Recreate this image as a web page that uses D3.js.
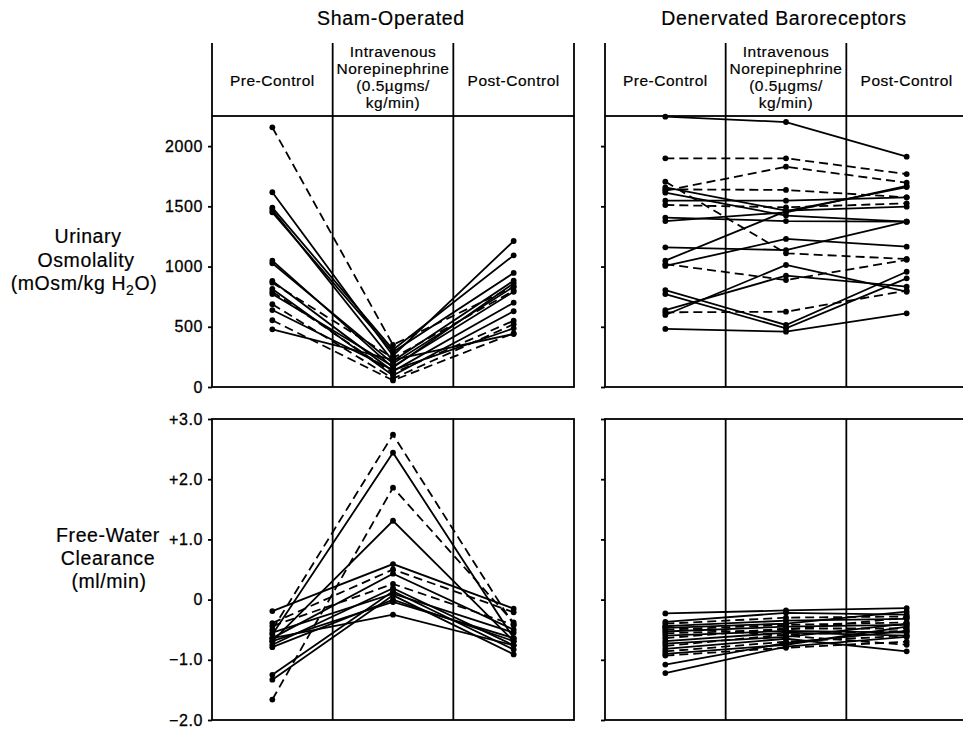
<!DOCTYPE html>
<html><head><meta charset="utf-8">
<script src="https://cdn.jsdelivr.net/npm/d3@7"></script>
<style>
body{margin:0;background:#fff;}
svg{font-family:"Liberation Sans",Arial,Helvetica,sans-serif;}
</style></head>
<body><svg id="c" width="963" height="730"></svg>
<script>
// ---------- data ----------
const phases = ["Pre-Control", "Norepinephrine", "Post-Control"];
const phaseHeaders = [["Pre-Control"], ["Intravenous", "Norepinephrine", "(0.5\u00b5gms/", "kg/min)"], ["Post-Control"]];
const groupTitles = ["Sham-Operated", "Denervated Baroreceptors"];
const osmTicks = [0, 500, 1000, 1500, 2000];
const fwcTicks = [-2, -1, 0, 1, 2, 3];
const fwcTickLabels = ["\u22122.0", "\u22121.0", "0", "+1.0", "+2.0", "+3.0"];

// each row: [pre, norepinephrine, post, dashed(1)/solid(0)]
const shamOsm = [
  [2156, 350, 833, 1],
  [1617, 260, 1212, 0],
  [1489, 310, 1093, 0],
  [1470, 215, 883, 0],
  [1450, 290, 947, 0],
  [1049, 160, 861, 0],
  [1027, 195, 833, 0],
  [880, 130, 700, 0],
  [866, 240, 800, 1],
  [814, 95, 629, 0],
  [791, 115, 550, 1],
  [772, 170, 791, 0],
  [687, 70, 521, 1],
  [639, 140, 487, 0],
  [554, 55, 446, 1],
  [479, 225, 440, 0]
];
const denervOsm = [
  [2244, 2200, 1912, 0],
  [1899, 1899, 1768, 1],
  [1630, 1829, 1696, 1],
  [1705, 1110, 1063, 1],
  [1641, 1636, 1575, 1],
  [1658, 1464, 1497, 0],
  [1547, 1547, 1575, 0],
  [1511, 1492, 1525, 1],
  [1613, 1423, 1373, 0],
  [1406, 1378, 1373, 0],
  [1378, 1450, 1669, 0],
  [1160, 1137, 1373, 0],
  [1049, 1460, 1660, 0],
  [1005, 1229, 1165, 0],
  [1020, 888, 1056, 1],
  [598, 1013, 791, 0],
  [639, 924, 833, 0],
  [805, 515, 957, 0],
  [772, 487, 902, 0],
  [620, 625, 800, 1],
  [482, 459, 612, 0]
];
const shamFwc = [
  [-0.50, 2.74, -0.42, 1],
  [-0.58, 2.44, -0.64, 0],
  [-1.66, 1.86, -0.38, 1],
  [-0.69, 1.31, -0.69, 0],
  [-0.19, 0.59, -0.15, 0],
  [-0.39, 0.50, -0.21, 1],
  [-0.64, 0.43, -0.50, 0],
  [-0.44, 0.26, -0.42, 1],
  [-0.75, 0.19, -0.76, 0],
  [-1.25, 0.14, -0.83, 0],
  [-1.33, 0.07, -0.91, 0],
  [-0.79, 0.00, -0.69, 0],
  [-0.69, -0.04, -0.64, 0],
  [-0.64, -0.25, -0.76, 0],
  [-0.55, 0.10, -0.55, 0]
];
const denervFwc = [
  [-0.23, -0.18, -0.14, 0],
  [-0.37, -0.22, -0.25, 0],
  [-0.40, -0.30, -0.28, 1],
  [-0.44, -0.35, -0.32, 0],
  [-0.47, -0.40, -0.20, 0],
  [-0.50, -0.42, -0.38, 1],
  [-0.53, -0.45, -0.42, 0],
  [-0.56, -0.50, -0.30, 1],
  [-0.60, -0.52, -0.55, 0],
  [-0.64, -0.48, -0.48, 1],
  [-0.69, -0.55, -0.60, 0],
  [-0.73, -0.62, -0.40, 0],
  [-0.77, -0.58, -0.52, 1],
  [-0.82, -0.65, -0.86, 0],
  [-0.86, -0.70, -0.60, 1],
  [-0.90, -0.75, -0.45, 0],
  [-0.93, -0.80, -0.70, 1],
  [-1.08, -0.72, -0.52, 0],
  [-1.22, -0.78, -0.62, 0],
  [-0.45, -0.60, -0.75, 1]
];

// ---------- layout ----------
const svg = d3.select("#c");
const panelX = [212, 605], panelW = 362;
const headerTop = 43, osmTop = 116, osmBottom = 387, fwcTop = 419, fwcBottom = 720;
const yOsm = d3.scaleLinear().domain([0, 2250]).range([osmBottom, osmTop]);
const yFwc = d3.scaleLinear().domain([-2, 3]).range([fwcBottom, fwcTop]);
const sw = 1.8;

function drawPanel(gi, yScale, top, bottom, rows, ticks, labels) {
  const x0 = panelX[gi];
  const band = d3.scaleBand().domain(phases).range([x0, x0 + panelW]);
  const pt = d3.scalePoint().domain(phases).range([x0, x0 + panelW]).padding(0.5);
  const g = svg.append("g");
  g.append("rect").attr("x", x0).attr("y", top).attr("width", panelW).attr("height", bottom - top)
    .attr("fill", "none").attr("stroke", "#000").attr("stroke-width", sw);
  phases.slice(1).forEach(p => {
    g.append("line").attr("x1", band(p)).attr("x2", band(p)).attr("y1", top).attr("y2", bottom)
      .attr("stroke", "#000").attr("stroke-width", sw);
  });
  const ax = d3.axisLeft(yScale).tickValues(ticks).tickSize(4).tickPadding(5)
    .tickFormat((d, i) => gi === 0 ? labels[i] : "");
  const ag = g.append("g").attr("transform", `translate(${x0},0)`).call(ax);
  ag.select(".domain").remove();
  ag.selectAll(".tick line").attr("stroke", "#000").attr("stroke-width", 1.8);
  ag.selectAll(".tick text").attr("fill", "#000").style("font-size", "16px")
    .style("letter-spacing", "0.6px").style("stroke", "#000").style("stroke-width", "0.3px")
    .style("font-family", '"Liberation Sans",Arial,sans-serif');
  const line = d3.line().x((d, i) => pt(phases[i])).y(d => yScale(d));
  rows.forEach(r => {
    const vals = r.slice(0, 3);
    g.append("path").attr("d", line(vals)).attr("fill", "none").attr("stroke", "#000")
      .attr("stroke-width", 1.8).attr("stroke-dasharray", r[3] ? "9,5" : null);
    vals.forEach((v, i) => {
      g.append("circle").attr("cx", pt(phases[i])).attr("cy", yScale(v)).attr("r", 2.9).attr("fill", "#000");
    });
  });
}

function drawHeader(gi) {
  const x0 = panelX[gi];
  const band = d3.scaleBand().domain(phases).range([x0, x0 + panelW]);
  const g = svg.append("g");
  [x0, x0 + panelW].concat(phases.slice(1).map(p => band(p))).forEach(x => {
    g.append("line").attr("x1", x).attr("x2", x).attr("y1", headerTop).attr("y2", osmTop)
      .attr("stroke", "#000").attr("stroke-width", sw);
  });
  phases.forEach((p, i) => {
    const lines = phaseHeaders[i];
    const cx = band(p) + band.bandwidth() / 2;
    const lh = 17.3;
    const firstBase = (lines.length === 1) ? 86 : 56.5;
    lines.forEach((t, k) => {
      g.append("text").attr("x", cx).attr("y", firstBase + k * lh).attr("text-anchor", "middle")
        .style("font-size", "15.5px").style("letter-spacing", "0.5px")
        .style("stroke", "#000").style("stroke-width", "0.2px").text(t);
    });
  });
  g.append("text").attr("x", x0 + panelW / 2 - 2).attr("y", 25).attr("text-anchor", "middle")
    .style("font-size", "19.5px").style("letter-spacing", "0.7px")
    .style("stroke", "#000").style("stroke-width", "0.2px").text(groupTitles[gi]);
}

drawHeader(0); drawHeader(1);
drawPanel(0, yOsm, osmTop, osmBottom, shamOsm, osmTicks, osmTicks.map(String));
drawPanel(1, yOsm, osmTop, osmBottom, denervOsm, osmTicks, osmTicks.map(String));
drawPanel(0, yFwc, fwcTop, fwcBottom, shamFwc, fwcTicks, fwcTickLabels);
drawPanel(1, yFwc, fwcTop, fwcBottom, denervFwc, fwcTicks, fwcTickLabels);

// y-axis titles
const t1 = svg.append("text").attr("text-anchor", "middle").style("font-size", "19.5px")
  .style("letter-spacing", "0.6px").style("stroke", "#000").style("stroke-width", "0.2px");
t1.append("tspan").attr("x", 88).attr("y", 243).text("Urinary");
t1.append("tspan").attr("x", 86).attr("y", 266.5).text("Osmolality");
t1.append("tspan").attr("x", 84).attr("y", 290).text("(mOsm/kg H");
t1.append("tspan").attr("dy", 5).style("font-size", "14px").text("2");
t1.append("tspan").attr("dy", -5).text("O)");

const t2 = svg.append("text").attr("text-anchor", "middle").style("font-size", "19.5px")
  .style("letter-spacing", "0.6px").style("stroke", "#000").style("stroke-width", "0.2px");
t2.append("tspan").attr("x", 108).attr("y", 542).text("Free-Water");
t2.append("tspan").attr("x", 108).attr("y", 565).text("Clearance");
t2.append("tspan").attr("x", 109).attr("y", 588).text("(ml/min)");
</script></body></html>
